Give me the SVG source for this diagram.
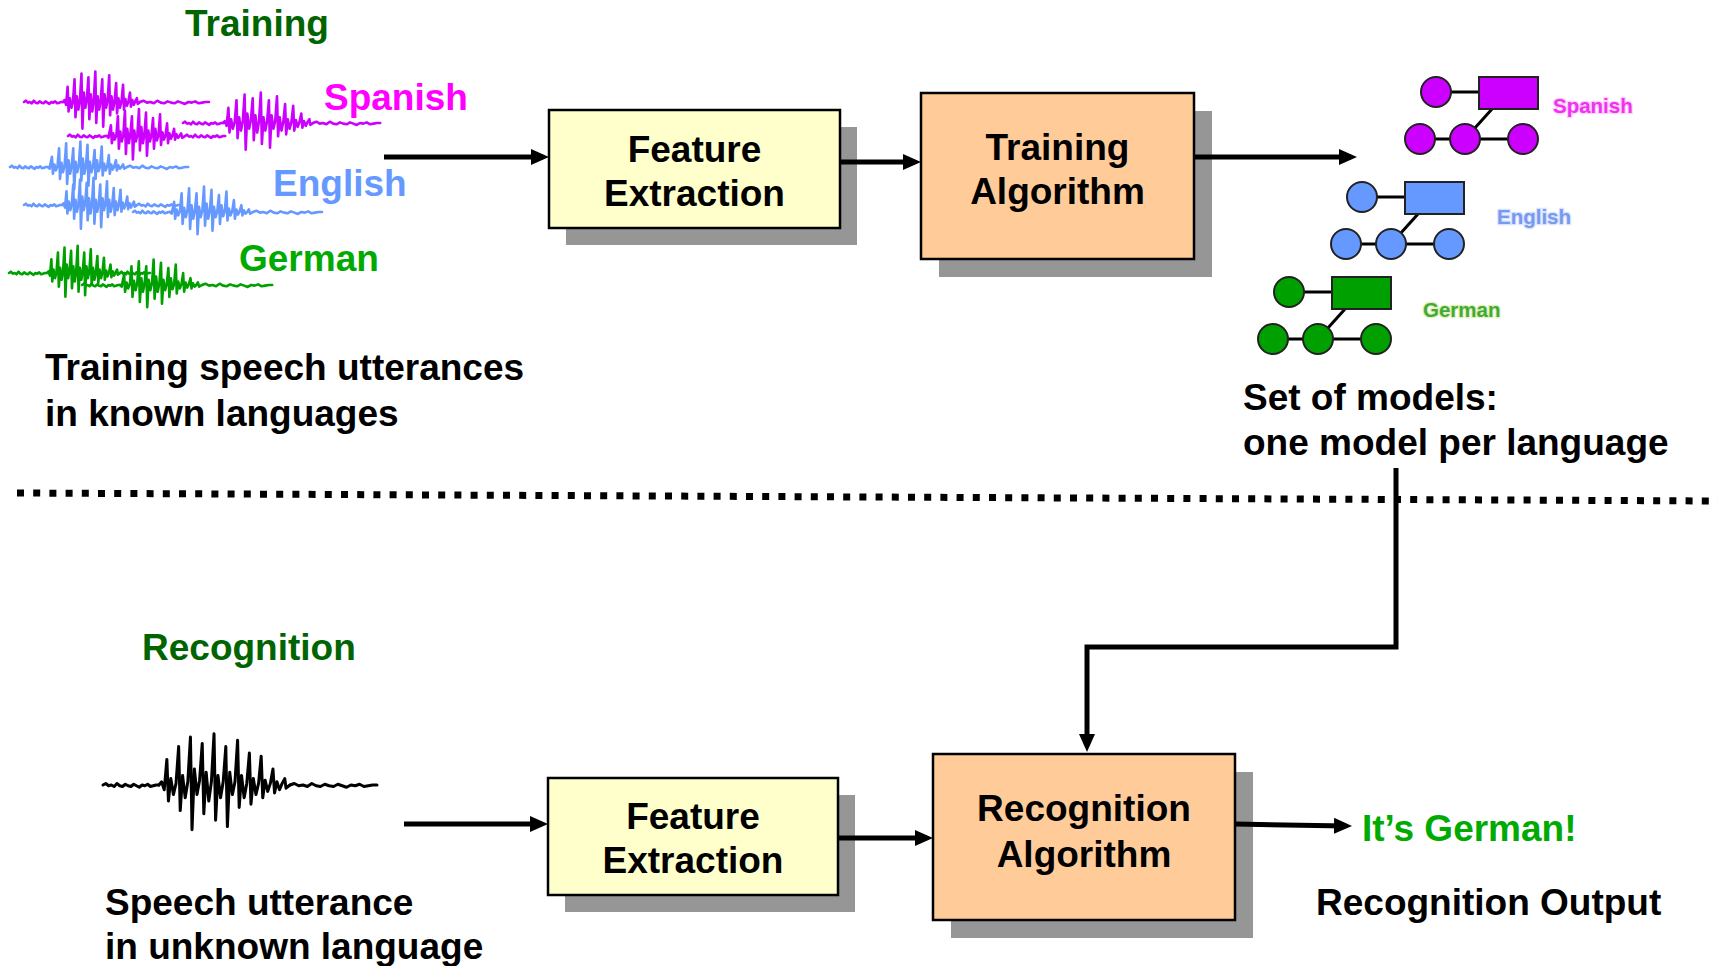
<svg xmlns="http://www.w3.org/2000/svg" xmlns:xlink="http://www.w3.org/1999/xlink" width="1729" height="966" viewBox="0 0 1729 966">
  <style>
    .t { font-family: "Liberation Sans", Arial, sans-serif; font-weight: 700; font-size: 37px; fill: #000; }
    .mid { text-anchor: middle; }
    .title { fill: #006400; }
    .box { stroke: #000; stroke-width: 2.5; }
    .shadow { fill: #969696; }
    .yellow { fill: #FFFFCC; }
    .orange { fill: #FFCC99; }
    .conn { fill: none; stroke: #000; stroke-width: 5; marker-end: url(#arrow); }
    .wave { fill: none; stroke-width: 2.6; stroke-linejoin: round; stroke-linecap: round; }
    .wave path, .wave use { vector-effect: non-scaling-stroke; }
    .small { font-family: "Liberation Sans", Arial, sans-serif; font-weight: 700; font-size: 20.5px; paint-order: stroke; stroke-width: 2.5; stroke-linejoin: round; }
    .mdl { stroke: #222; stroke-width: 2; }
  </style>
  <defs>
    <marker id="arrow" markerUnits="userSpaceOnUse" markerWidth="18" markerHeight="16" viewBox="0 0 18 16" refX="12" refY="8" orient="auto">
      <path d="M0,0 L18,8 L0,16 z" fill="#000"/>
    </marker>
    <!-- low-level background noise, 60 units long -->
    <path id="noise" vector-effect="non-scaling-stroke" d="M0,0 l3,-1 l3,1.5 l3,-0.5 l3,1 l3,-2 l3,1.5 l3,0.5 l3,-1.5 l3,1 l3,0.5 l3,-1.5 l3,1 l3,1 l3,-1.5 l3,0.5 l3,-1 l3,1.5 l3,-0.5 l3,-0.5 l3,0"/>
    <!-- voiced bursts, 100 units long: sharp pitch pulses under a rise-and-decay envelope -->
    <path id="burst" vector-effect="non-scaling-stroke" d="M0,0 L2,-2 L4,3
      L6,-16 L7.2,10 L9,-4 L11,6 L13,-1
      L15,-24 L16.2,16 L18,-6 L20,8 L22,-2
      L24,-30 L25.2,28 L27,-10 L29,6 L31,-3
      L33,-26 L34.2,18 L36,-8 L38,10 L40,-2
      L42,-32 L43.2,22 L45,-6 L47,8 L49,-2
      L51,-24 L52.2,26 L54,-8 L56,6 L58,-2
      L60,-28 L61.2,14 L63,-6 L65,8 L67,-1
      L69,-20 L70.2,12 L72,-4 L74,6 L76,-1
      L78,-18 L79.2,8 L81,-3 L83,4 L85,-1
      L87,-10 L88.2,5 L90,-2 L92,3 L94,-1
      L96,-4 L97,2 L100,0"/>
    <path id="burst2" vector-effect="non-scaling-stroke" d="M0,0 L2,2 L3,-3
      L5,-12 L6.2,8 L8,-3 L10,4 L12,-1
      L14,-22 L15.2,14 L17,-5 L19,6 L21,-2
      L23,-28 L24.2,20 L26,-8 L28,8 L30,-2
      L32,-22 L33.2,26 L35,-6 L37,6 L39,-2
      L41,-30 L42.2,16 L44,-10 L46,8 L48,-2
      L50,-26 L51.2,22 L53,-6 L55,6 L57,-1
      L59,-20 L60.2,14 L62,-8 L64,5 L66,-1
      L68,-24 L69.2,10 L71,-4 L73,4 L75,-1
      L77,-14 L78.2,8 L80,-3 L82,3 L84,-1
      L86,-8 L87.2,4 L89,-2 L91,2 L93,0
      L95,-3 L96.5,2 L100,0"/>
    <!-- language model graph: one state plus a small chain -->
    <g id="model">
      <path d="M0,0 H43 M-16,47 H87 M56,17 L29,47" stroke="#000" stroke-width="3" fill="none"/>
      <circle class="mdl" cx="0" cy="0" r="15"/>
      <rect class="mdl" x="43" y="-15" width="59" height="32"/>
      <circle class="mdl" cx="-16" cy="47" r="15"/>
      <circle class="mdl" cx="29" cy="47" r="15"/>
      <circle class="mdl" cx="87" cy="47" r="15"/>
    </g>
  </defs>

  <rect width="1729" height="966" fill="#fff"/>

  <!-- section titles -->
  <text class="t title mid" x="257" y="36">Training</text>
  <text class="t title" x="142" y="660">Recognition</text>

  <!-- training utterances -->
  <g id="utterances-spanish" class="wave" stroke="#CC00FF">
    <use xlink:href="#noise" transform="translate(24,102) scale(0.65,1.3)"/>
    <use xlink:href="#burst" transform="translate(63,102) scale(0.77,0.95)"/>
    <use xlink:href="#noise" transform="translate(140,102) scale(1.15,1.3)"/>
    <use xlink:href="#noise" transform="translate(68,136) scale(0.65,1.3)"/>
    <use xlink:href="#burst2" transform="translate(107,136) scale(0.78,0.9)"/>
    <use xlink:href="#noise" transform="translate(185,136) scale(0.67,1.3)"/>
    <use xlink:href="#noise" transform="translate(183,123) scale(0.67,1.3)"/>
    <use xlink:href="#burst" transform="translate(223,123) scale(0.9,0.95)"/>
    <use xlink:href="#noise" transform="translate(313,123) scale(1.12,1.3)"/>
  </g>
  <g id="utterances-english" class="wave" stroke="#6699FF">
    <use xlink:href="#noise" transform="translate(10,167) scale(0.63,1.3)"/>
    <use xlink:href="#burst2" transform="translate(48,167) scale(0.79,0.85)"/>
    <use xlink:href="#noise" transform="translate(127,167) scale(1.02,1.3)"/>
    <use xlink:href="#noise" transform="translate(24,205) scale(0.63,1.3)"/>
    <use xlink:href="#burst" transform="translate(62,205) scale(0.75,0.85)"/>
    <use xlink:href="#noise" transform="translate(137,205) scale(0.72,1.3)"/>
    <use xlink:href="#noise" transform="translate(133,212) scale(0.62,1.3)"/>
    <use xlink:href="#burst2" transform="translate(170,212) scale(0.83,0.85)"/>
    <use xlink:href="#noise" transform="translate(253,212) scale(1.15,1.3)"/>
  </g>
  <g id="utterances-german" class="wave" stroke="#00A000">
    <use xlink:href="#noise" transform="translate(9,273) scale(0.63,1.3)"/>
    <use xlink:href="#burst" transform="translate(47,273) scale(0.73,0.85)"/>
    <use xlink:href="#noise" transform="translate(120,273) scale(0.5,1.3)"/>
    <use xlink:href="#noise" transform="translate(82,285) scale(0.63,1.3)"/>
    <use xlink:href="#burst2" transform="translate(120,285) scale(0.82,0.85)"/>
    <use xlink:href="#noise" transform="translate(202,285) scale(1.17,1.3)"/>
  </g>
  <text class="t" x="324" y="110" style="fill:#FF00FF">Spanish</text>
  <text class="t" x="273" y="196" style="fill:#6699FF">English</text>
  <text class="t" x="239" y="271" style="fill:#00AA00">German</text>
  <text class="t" x="45" y="380">Training speech utterances</text>
  <text class="t" x="45" y="426">in known languages</text>

  <!-- training pipeline -->
  <g id="feature-extraction-train">
    <rect class="shadow" x="566" y="127" width="291" height="118"/>
    <rect class="box yellow" x="549" y="110" width="291" height="118"/>
    <text class="t mid" x="694.5" y="162">Feature</text>
    <text class="t mid" x="694.5" y="206">Extraction</text>
  </g>
  <g id="training-algorithm">
    <rect class="shadow" x="939" y="111" width="273" height="166"/>
    <rect class="box orange" x="921" y="93" width="273" height="166"/>
    <text class="t mid" x="1057.5" y="160">Training</text>
    <text class="t mid" x="1057.5" y="204">Algorithm</text>
  </g>

  <!-- one model per language -->
  <g id="model-spanish">
    <use xlink:href="#model" x="1436" y="92" fill="#CC00FF"/>
    <text class="small" x="1553" y="113" fill="#EE33EE" stroke="#FFD0FF">Spanish</text>
  </g>
  <g id="model-english">
    <use xlink:href="#model" x="1362" y="197" fill="#6699FF"/>
    <text class="small" x="1497" y="224" fill="#7799EE" stroke="#D8E4FF">English</text>
  </g>
  <g id="model-german">
    <use xlink:href="#model" x="1289" y="292" fill="#00A000"/>
    <text class="small" x="1423" y="317" fill="#44AA33" stroke="#E0F0C0">German</text>
  </g>
  <text class="t" x="1243" y="410">Set of models:</text>
  <text class="t" x="1243" y="455">one model per language</text>

  <!-- separator between training and recognition -->
  <line id="separator" x1="17" y1="493" x2="1718" y2="501" stroke="#000" stroke-width="7" stroke-dasharray="7 9.2"/>

  <!-- recognition input -->
  <g id="utterance-unknown" class="wave" stroke="#000" style="stroke-width:3">
    <use xlink:href="#noise" transform="translate(103,785) scale(0.93,1.5)"/>
    <use xlink:href="#burst" transform="translate(159,785) scale(1.31,1.6)"/>
    <use xlink:href="#noise" transform="translate(290,785) scale(1.45,1.5)"/>
  </g>
  <text class="t" x="105" y="915">Speech utterance</text>
  <text class="t" x="105" y="959">in unknown language</text>

  <!-- recognition pipeline -->
  <g id="feature-extraction-recog">
    <rect class="shadow" x="565" y="795" width="290" height="117"/>
    <rect class="box yellow" x="548" y="778" width="290" height="117"/>
    <text class="t mid" x="693" y="829">Feature</text>
    <text class="t mid" x="693" y="873">Extraction</text>
  </g>
  <g id="recognition-algorithm">
    <rect class="shadow" x="951" y="772" width="302" height="166"/>
    <rect class="box orange" x="933" y="754" width="302" height="166"/>
    <text class="t mid" x="1084" y="821">Recognition</text>
    <text class="t mid" x="1084" y="867">Algorithm</text>
  </g>
  <g id="output">
    <text class="t" x="1362" y="841" style="fill:#00AA00">It’s German!</text>
    <text class="t" x="1316" y="915">Recognition Output</text>
  </g>

  <!-- connectors (line ends sit 6px short of each arrow tip) -->
  <g id="connectors">
    <path class="conn" d="M384,157 H543"/>
    <path class="conn" d="M840,162 H915"/>
    <path class="conn" d="M1194,157 H1351"/>
    <path class="conn" d="M1396,468 V647 H1087 V746"/>
    <path class="conn" d="M404,824 H542"/>
    <path class="conn" d="M838,838 H927"/>
    <path class="conn" d="M1235,824 L1346,826"/>
  </g>
</svg>
